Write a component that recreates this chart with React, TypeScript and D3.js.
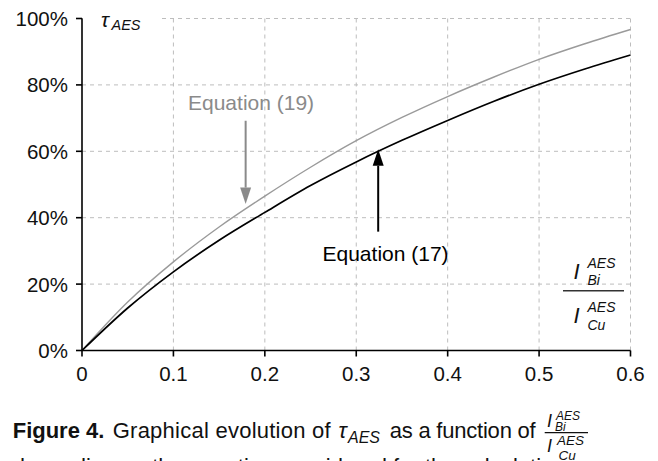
import React from "react";
import * as d3 from "d3";

// Intensity ratio I_Bi / I_Cu
const ratio = [0, 0.05, 0.1, 0.15, 0.2, 0.25, 0.3, 0.35, 0.4, 0.45, 0.5, 0.55, 0.6];
// τ_AES (%) from equation (17)
const eq17 = [0, 12.8, 23.7, 33.2, 41.6, 49.7, 56.8, 63.3, 69.3, 75.0, 80.2, 84.8, 89.0];
// τ_AES (%) from equation (19)
const eq19 = [0, 14.6, 26.7, 37.2, 46.5, 55.2, 63.2, 70.2, 76.5, 82.3, 87.7, 92.4, 96.7];

const xTicks = [0, 0.1, 0.2, 0.3, 0.4, 0.5, 0.6];
const xTickLabels = ["0", "0.1", "0.2", "0.3", "0.4", "0.5", "0.6"];
const yTicks = [0, 20, 40, 60, 80, 100];
const yTickLabels = ["0%", "20%", "40%", "60%", "80%", "100%"];

// Annotation arrows: x position, start and tip (in %)
const arrow19 = { x: 0.179, from: 69.2, to: 44.1, label: "Equation (19)" };
const arrow17 = { x: 0.324, from: 35.8, to: 60.6, label: "Equation (17)" };

const FONT = "'Liberation Sans', Arial, Helvetica, sans-serif";

export default function App() {
  const x = d3.scaleLinear().domain([0, 0.6]).range([82, 630.5]);
  const y = d3.scaleLinear().domain([0, 100]).range([350.5, 18.5]);

  const line = d3
    .line<number>()
    .x((_, i) => x(ratio[i]))
    .y((d) => y(d))
    .curve(d3.curveMonotoneX);

  const arrow = (a: typeof arrow19, color: string, w: number) => {
    const ax = x(a.x);
    const y0 = y(a.from);
    const y1 = y(a.to);
    const dir = y1 > y0 ? 1 : -1;
    const headLen = 16.5;
    const headHalf = 5.5;
    const baseY = y1 - dir * headLen;
    return (
      <g>
        <line x1={ax} x2={ax} y1={y0} y2={baseY} stroke={color} strokeWidth={w} />
        <path
          d={`M${ax},${y1} L${ax - headHalf},${baseY} L${ax + headHalf},${baseY} Z`}
          fill={color}
        />
      </g>
    );
  };

  return (
    <svg
      width={658}
      height={461}
      style={{ position: "absolute", left: 0, top: 0, background: "#fff" }}
      fontFamily={FONT}
    >
      <rect width={658} height={461} fill="#fff" />
      {/* grid */}
      <g stroke="#bdbdbd" strokeWidth={1} strokeDasharray="4,4">
        {xTicks.slice(1).map((t) => (
          <line key={"gx" + t} x1={x(t)} x2={x(t)} y1={y(100)} y2={y(0)} />
        ))}
        {yTicks.slice(1).map((t) => (
          <line key={"gy" + t} x1={x(0)} x2={x(0.6)} y1={y(t)} y2={y(t)} />
        ))}
      </g>
      {/* axis title with its own background */}
      <rect x={83} y={8} width={79} height={24} fill="#fff" />
      <text x={101} y={27} fontSize={21} fontStyle="italic" fill="#111">
        τ
      </text>
      <text x={111.5} y={30} fontSize={14.5} fontStyle="italic" fill="#111">
        AES
      </text>

      {/* curves */}
      <path d={line(eq19) || ""} fill="none" stroke="#9a9a9a" strokeWidth={1.4} />
      <path d={line(eq17) || ""} fill="none" stroke="#000" strokeWidth={1.7} />

      {/* axes */}
      <g stroke="#000" strokeWidth={1.6}>
        <line x1={x(0)} x2={x(0)} y1={y(100)} y2={y(0)} />
        <line x1={x(0)} x2={x(0.6)} y1={y(0)} y2={y(0)} />
        {yTicks.map((t) => (
          <line key={"ty" + t} x1={x(0) - 6} x2={x(0)} y1={y(t)} y2={y(t)} />
        ))}
        {xTicks.map((t) => (
          <line key={"tx" + t} x1={x(t)} x2={x(t)} y1={y(0)} y2={y(0) + 6} />
        ))}
      </g>
      <g fontSize={20.5} fill="#111">
        {yTicks.map((t, i) => (
          <text key={"ly" + t} x={68} y={y(t) + 7.5} textAnchor="end">
            {yTickLabels[i]}
          </text>
        ))}
        {xTicks.map((t, i) => (
          <text key={"lx" + t} x={x(t)} y={381} textAnchor="middle">
            {xTickLabels[i]}
          </text>
        ))}
      </g>

      {/* annotations */}
      {arrow(arrow19, "#8a8a8a", 2)}
      {arrow(arrow17, "#000", 2)}
      <text x={188} y={110} fontSize={21} fill="#8a8a8a">
        {arrow19.label}
      </text>
      <text x={322.5} y={261} fontSize={21} fill="#000">
        {arrow17.label}
      </text>

      {/* x-axis quantity: I_Bi^AES / I_Cu^AES */}
      <g fontStyle="italic" fill="#111">
        <text x={573.5} y={279} fontSize={22}>I</text>
        <text x={587.5} y={268} fontSize={14}>AES</text>
        <text x={587.5} y={284.5} fontSize={14}>Bi</text>
        <line x1={563} x2={624} y1={290.7} y2={290.7} stroke="#333" strokeWidth={1.5} />
        <text x={573.5} y={323} fontSize={22}>I</text>
        <text x={587.5} y={312} fontSize={14}>AES</text>
        <text x={587.5} y={329.5} fontSize={14}>Cu</text>
      </g>

      {/* caption */}
      <g fill="#111" fontSize={22}>
        <text x={12.7} y={438.3} fontWeight="bold">Figure 4.</text>
        <text x={112.7} y={438.3} textLength={218} lengthAdjust="spacing">Graphical evolution of</text>
        <text x={338.5} y={438.3} fontStyle="italic">τ</text>
        <text x={348} y={443.3} fontStyle="italic" fontSize={16}>AES</text>
        <text x={389.7} y={438.3} textLength={146} lengthAdjust="spacing">as a function of</text>
        <g fontStyle="italic">
          <text x={547} y={427} fontSize={18}>I</text>
          <text x={556} y={419.5} fontSize={12}>AES</text>
          <text x={555} y={431} fontSize={12}>Bi</text>
          <line x1={544.7} x2={588} y1={432.7} y2={432.7} stroke="#111" strokeWidth={1.2} />
          <text x={547} y={451.5} fontSize={18}>I</text>
          <text x={557} y={444.5} fontSize={13.5}>AES</text>
          <text x={558.5} y={460} fontSize={13.5}>Cu</text>
        </g>
        <text x={12.7} y={474}>depending on the equation considered for the calculation</text>
      </g>
    </svg>
  );
}
